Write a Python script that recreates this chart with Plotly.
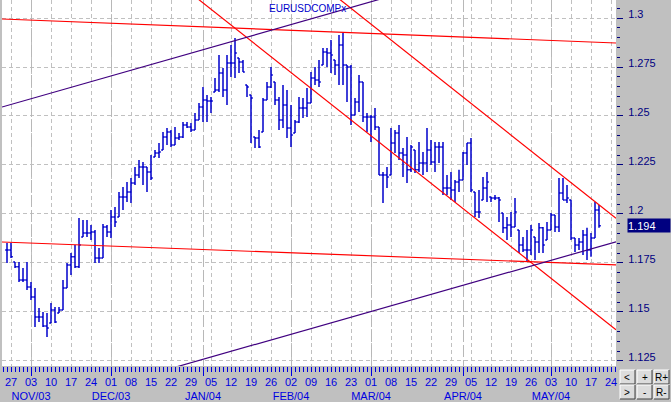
import pandas as pd
import plotly.graph_objects as go

# daily EUR/USD bars, first bar on Fri 24 Oct 2003, one per weekday
start_date = "2003-10-24"

open_ = [1.1816, 1.1816, 1.1755, 1.1730, 1.1663, 1.1663, 1.1627, 1.1576, 1.1474, 1.1474,
         1.1428, 1.1444, 1.1510, 1.1495, 1.1510, 1.1622, 1.1740, 1.1781, 1.1730, 1.1883,
         1.1903, 1.1903, 1.1908, 1.1775, 1.1775, 1.1934, 1.1908, 1.1985, 1.1985, 1.2087,
         1.2087, 1.2112, 1.2158, 1.2199, 1.2240, 1.2240, 1.2214, 1.2291, 1.2311, 1.2327,
         1.2393, 1.2418, 1.2352, 1.2388, 1.2393, 1.2454, 1.2444, 1.2429, 1.2480, 1.2546,
         1.2582, 1.2576, 1.2622, 1.2633, 1.2719, 1.2633, 1.2770, 1.2770, 1.2796, 1.2776,
         1.2658, 1.2607, 1.2393, 1.2388, 1.2418, 1.2582, 1.2648, 1.2673, 1.2582, 1.2480,
         1.2556, 1.2439, 1.2413, 1.2469, 1.2541, 1.2541, 1.2566, 1.2694, 1.2684, 1.2760,
         1.2827, 1.2821, 1.2786, 1.2760, 1.2862, 1.2760, 1.2750, 1.2505, 1.2571, 1.2673,
         1.2495, 1.2495, 1.2495, 1.2444, 1.2199, 1.2199, 1.2199, 1.2362, 1.2413, 1.2311,
         1.2301, 1.2225, 1.2327, 1.2225, 1.2260, 1.2260, 1.2327, 1.2265, 1.2342, 1.2342,
         1.2133, 1.2133, 1.2122, 1.2163, 1.2173, 1.2311, 1.2362, 1.2112, 1.2010, 1.2071,
         1.2133, 1.2087, 1.2082, 1.2082, 1.2005, 1.1929, 1.1944, 1.1934, 1.1918, 1.1842,
         1.1816, 1.1816, 1.1883, 1.1857, 1.1929, 1.1867, 1.1918, 1.1995, 1.1934, 1.2107,
         1.2071, 1.2071, 1.1877, 1.1842, 1.1857, 1.1893, 1.1816, 1.1877, 1.2020]

high = [1.1852, 1.1852, 1.1755, 1.1755, 1.1724, 1.1755, 1.1653, 1.1622, 1.1520, 1.1500,
        1.1495, 1.1546, 1.1525, 1.1525, 1.1663, 1.1750, 1.1801, 1.1842, 1.1980, 1.1969,
        1.1969, 1.1944, 1.1918, 1.1826, 1.1949, 1.1944, 1.2020, 1.2036, 1.2112, 1.2138,
        1.2163, 1.2184, 1.2240, 1.2276, 1.2265, 1.2240, 1.2301, 1.2327, 1.2362, 1.2418,
        1.2439, 1.2429, 1.2444, 1.2413, 1.2469, 1.2469, 1.2464, 1.2515, 1.2566, 1.2648,
        1.2607, 1.2597, 1.2694, 1.2811, 1.2745, 1.2811, 1.2862, 1.2898, 1.2796, 1.2786,
        1.2658, 1.2607, 1.2393, 1.2429, 1.2592, 1.2673, 1.2750, 1.2673, 1.2597, 1.2658,
        1.2633, 1.2556, 1.2480, 1.2597, 1.2592, 1.2643, 1.2724, 1.2750, 1.2786, 1.2847,
        1.2847, 1.2888, 1.2786, 1.2913, 1.2923, 1.2760, 1.2760, 1.2592, 1.2709, 1.2673,
        1.2515, 1.2505, 1.2541, 1.2444, 1.2214, 1.2240, 1.2439, 1.2429, 1.2454, 1.2337,
        1.2393, 1.2352, 1.2327, 1.2367, 1.2316, 1.2439, 1.2378, 1.2367, 1.2367, 1.2367,
        1.2199, 1.2214, 1.2173, 1.2225, 1.2316, 1.2362, 1.2388, 1.2112, 1.2122, 1.2189,
        1.2214, 1.2087, 1.2097, 1.2087, 1.2005, 1.1985, 1.2010, 1.2082, 1.1918, 1.1883,
        1.1918, 1.1944, 1.1883, 1.1954, 1.1934, 1.1959, 1.2005, 1.1995, 1.2184, 1.2184,
        1.2148, 1.2071, 1.1877, 1.1877, 1.1918, 1.1929, 1.1903, 1.2061, 1.2046]

low = [1.1750, 1.1775, 1.1724, 1.1653, 1.1653, 1.1612, 1.1561, 1.1423, 1.1449, 1.1423,
       1.1372, 1.1444, 1.1444, 1.1495, 1.1510, 1.1622, 1.1689, 1.1724, 1.1724, 1.1883,
       1.1883, 1.1867, 1.1750, 1.1750, 1.1775, 1.1883, 1.1877, 1.1934, 1.1985, 1.2020,
       1.2061, 1.2056, 1.2148, 1.2184, 1.2148, 1.2112, 1.2173, 1.2291, 1.2286, 1.2327,
       1.2352, 1.2342, 1.2352, 1.2378, 1.2388, 1.2439, 1.2418, 1.2429, 1.2480, 1.2469,
       1.2469, 1.2515, 1.2622, 1.2622, 1.2597, 1.2556, 1.2699, 1.2694, 1.2719, 1.2724,
       1.2597, 1.2362, 1.2337, 1.2337, 1.2418, 1.2582, 1.2643, 1.2556, 1.2429, 1.2439,
       1.2388, 1.2342, 1.2413, 1.2464, 1.2490, 1.2495, 1.2566, 1.2658, 1.2648, 1.2760,
       1.2750, 1.2719, 1.2709, 1.2658, 1.2658, 1.2571, 1.2454, 1.2505, 1.2520, 1.2469,
       1.2418, 1.2367, 1.2429, 1.2199, 1.2056, 1.2133, 1.2199, 1.2311, 1.2276, 1.2189,
       1.2158, 1.2214, 1.2209, 1.2214, 1.2199, 1.2214, 1.2250, 1.2214, 1.2260, 1.2097,
       1.2097, 1.2071, 1.2061, 1.2112, 1.2173, 1.2250, 1.2112, 1.1985, 1.1980, 1.2071,
       1.2061, 1.2061, 1.2071, 1.1959, 1.1903, 1.1867, 1.1883, 1.1934, 1.1801, 1.1806,
       1.1755, 1.1791, 1.1765, 1.1801, 1.1801, 1.1867, 1.1918, 1.1908, 1.1908, 1.2071,
       1.2056, 1.1867, 1.1806, 1.1816, 1.1791, 1.1765, 1.1781, 1.1877, 1.1929]

close = [1.1816, 1.1781, 1.1730, 1.1663, 1.1663, 1.1627, 1.1576, 1.1474, 1.1474, 1.1428,
         1.1418, 1.1510, 1.1449, 1.1510, 1.1622, 1.1740, 1.1781, 1.1730, 1.1842, 1.1903,
         1.1903, 1.1908, 1.1775, 1.1775, 1.1934, 1.1908, 1.1985, 1.1959, 1.2087, 1.2087,
         1.2112, 1.2158, 1.2199, 1.2240, 1.2240, 1.2214, 1.2184, 1.2311, 1.2316, 1.2393,
         1.2418, 1.2352, 1.2388, 1.2393, 1.2454, 1.2444, 1.2429, 1.2480, 1.2546, 1.2582,
         1.2576, 1.2576, 1.2633, 1.2719, 1.2633, 1.2770, 1.2770, 1.2821, 1.2776, 1.2724,
         1.2648, 1.2592, 1.2388, 1.2342, 1.2582, 1.2648, 1.2709, 1.2582, 1.2480, 1.2556,
         1.2439, 1.2403, 1.2469, 1.2541, 1.2541, 1.2566, 1.2694, 1.2684, 1.2673, 1.2827,
         1.2821, 1.2811, 1.2760, 1.2862, 1.2760, 1.2750, 1.2505, 1.2571, 1.2673, 1.2495,
         1.2495, 1.2495, 1.2444, 1.2199, 1.2199, 1.2189, 1.2362, 1.2413, 1.2311, 1.2301,
         1.2225, 1.2342, 1.2225, 1.2260, 1.2260, 1.2327, 1.2265, 1.2342, 1.2342, 1.2133,
         1.2133, 1.2122, 1.2163, 1.2173, 1.2311, 1.2362, 1.2122, 1.2010, 1.2010, 1.2133,
         1.2163, 1.2082, 1.2082, 1.2071, 1.1929, 1.1944, 1.1934, 1.2010, 1.1842, 1.1816,
         1.1816, 1.1918, 1.1857, 1.1929, 1.1842, 1.1918, 1.1995, 1.1934, 1.2107, 1.2071,
         1.2082, 1.1877, 1.1842, 1.1857, 1.1893, 1.1816, 1.1877, 1.2020, 1.1940]

# weekly labels (Mondays) and month labels
first_monday = "2003-10-27"
week_labels = ["27", "03", "10", "17", "24", "01", "08", "15", "22", "29", "05", "12",
               "19", "26", "02", "09", "16", "23", "01", "08", "15", "22", "29", "05",
               "12", "19", "26", "03", "10", "17", "24"]
month_starts = ["2003-11-03", "2003-12-01", "2004-01-01", "2004-02-02",
                "2004-03-01", "2004-04-01", "2004-05-03"]
month_labels = ["NOV/03", "DEC/03", "JAN/04", "FEB/04", "MAR/04", "APR/04", "MAY/04"]

price_ticks = [1.125, 1.15, 1.175, 1.2, 1.225, 1.25, 1.275, 1.3]
price_labels = ["1.125", "1.15", "1.175", "1.2", "1.225", "1.25", "1.275", "1.3"]

# trend lines: (date, price, date, price, colour)
trend_lines = [
    ("2003-10-24", 1.2994, "2004-05-19", 1.2876, "#FF0000"),
    ("2003-10-24", 1.1856, "2004-05-19", 1.1743, "#FF0000"),
    ("2004-01-13", 1.2948, "2004-05-19", 1.1478, "#FF0000"),
    ("2004-02-27", 1.2985, "2004-05-19", 1.2047, "#FF0000"),
    ("2003-10-24", 1.2553, "2004-01-13", 1.2885, "#400080"),
    ("2004-01-16", 1.1322, "2004-05-19", 1.1833, "#400080"),
]

BG = "#C0C0C0"
BAR = "#0000CC"
FONT = "Arial, Liberation Sans, sans-serif"

# trading-day calendar (weekdays) used as the x scale
days = pd.bdate_range(start_date, "2004-05-25")
pos = {d: i for i, d in enumerate(days)}
bar_x = list(range(len(close)))
x_range = [-1.25, 152.25]

week_pos = [pos[d] for d in pd.date_range(first_monday, periods=len(week_labels), freq="7D")]
month_pos = [pos[pd.Timestamp(d)] for d in month_starts]

fig = go.Figure()

fig.add_trace(go.Ohlc(
    x=bar_x, open=open_, high=high, low=low, close=close,
    increasing=dict(line=dict(color=BAR, width=1.5)),
    decreasing=dict(line=dict(color=BAR, width=1.5)),
    tickwidth=0.45, hoverinfo="skip", showlegend=False,
))

for d0, p0, d1, p1, col in trend_lines:
    i0, i1 = pos[pd.Timestamp(d0)], pos[pd.Timestamp(d1)]
    slope = (p1 - p0) / (i1 - i0)
    xs = x_range
    ys = [p0 + slope * (x - i0) for x in xs]
    fig.add_trace(go.Scatter(x=xs, y=ys, mode="lines", xaxis="x2",
                             line=dict(color=col, width=1.2),
                             hoverinfo="skip", showlegend=False))


def px_x(v):
    return (v - 2) / 614


def px_y(v):
    return (366 - v) / 366


shapes = []
annotations = []

# last price tag
annotations.append(dict(
    x=px_x(627), y=close[-1], xref="paper", yref="y", xanchor="left",
    text=f"{close[-1]:.3f}", showarrow=False, width=42, height=13, align="left",
    bgcolor="#000080", font=dict(color="white", size=11, family=FONT), borderpad=0,
))

# title
annotations.append(dict(
    x=px_x(307), y=1, xref="paper", yref="paper", yanchor="top", yshift=-1,
    text="EURUSDCOMPx", showarrow=False,
    font=dict(color="#0000CC", size=10, family=FONT),
))

# scroll / zoom buttons
btn_cols = [620, 637, 654]
btn_rows = [370, 385]
btn_text = [["<", "+", "R+"], [">", "-", "R-"]]
for r, y0 in enumerate(btn_rows):
    for c, x0 in enumerate(btn_cols):
        x1, y1 = x0 + 15, y0 + 14
        shapes.append(dict(type="rect", xref="paper", yref="paper", layer="above",
                           x0=px_x(x0), x1=px_x(x1), y0=px_y(y1), y1=px_y(y0),
                           fillcolor="#DCDCDC", line=dict(width=0)))
        shapes.append(dict(type="path", xref="paper", yref="paper", layer="above",
                           path=f"M{px_x(x0)},{px_y(y1)} L{px_x(x0)},{px_y(y0)} L{px_x(x1)},{px_y(y0)}",
                           line=dict(color="white", width=1)))
        shapes.append(dict(type="path", xref="paper", yref="paper", layer="above",
                           path=f"M{px_x(x0)},{px_y(y1)} L{px_x(x1)},{px_y(y1)} L{px_x(x1)},{px_y(y0)}",
                           line=dict(color="#404040", width=1)))
        annotations.append(dict(x=px_x(x0 + 7.5), y=px_y(y0 + 7), xref="paper", yref="paper",
                                text=btn_text[r][c], showarrow=False,
                                xanchor="center", yanchor="middle",
                                font=dict(color="black", size=10, family=FONT)))

fig.update_layout(
    width=671, height=402,
    margin=dict(l=2, r=55, t=0, b=36, autoexpand=False),
    paper_bgcolor=BG, plot_bgcolor="white",
    font=dict(family=FONT, size=11),
    showlegend=False, dragmode=False,
    shapes=shapes, annotations=annotations,
    xaxis=dict(
        range=x_range, rangeslider=dict(visible=False), zeroline=False, automargin=False,
        tickmode="array", tickvals=week_pos, ticktext=week_labels,
        ticks="outside", ticklen=5, tickcolor="#0000E0", tickwidth=1,
        tickfont=dict(color="#0000E0", size=11),
        ticklabelstandoff=1,
        showgrid=True, gridcolor=BG, griddash="4px,3px", gridwidth=1,
        minor=dict(tickmode="linear", tick0=0, dtick=1, ticks="outside",
                   ticklen=5, tickcolor="#0000E0", showgrid=False),
        showline=False, fixedrange=True,
    ),
    xaxis2=dict(
        overlaying="x", anchor="y", side="bottom", matches="x", automargin=False,
        range=x_range, zeroline=False,
        tickmode="array", tickvals=month_pos, ticktext=month_labels,
        ticks="outside", ticklen=9, tickcolor="#0000E0", tickwidth=1,
        tickfont=dict(color="#0000E0", size=11),
        ticklabelstandoff=11,
        showgrid=True, gridcolor="#B8B8B8", griddash="12px,3px", gridwidth=1,
        showline=False, fixedrange=True,
    ),
    yaxis=dict(
        side="right", range=[1.1224, 1.3092], zeroline=False, automargin=False,
        tickmode="array", tickvals=price_ticks, ticktext=price_labels,
        ticks="outside", ticklen=6, tickcolor="#000080", tickwidth=1,
        tickfont=dict(color="#000080", size=11),
        ticklabelstandoff=3, ticklabelshift=-4,
        showgrid=True, gridcolor=BG, griddash="4px,3px", gridwidth=1,
        minor=dict(tickmode="linear", tick0=1.125, dtick=0.005, ticks="outside",
                   ticklen=3, tickcolor="#000080", showgrid=False),
        showline=False, fixedrange=True,
    ),
)

# page margin off so the figure sits at the window's top-left corner
fig.write_html("out.html", config={"displayModeBar": False},
               post_script="document.body.style.margin='0';")
